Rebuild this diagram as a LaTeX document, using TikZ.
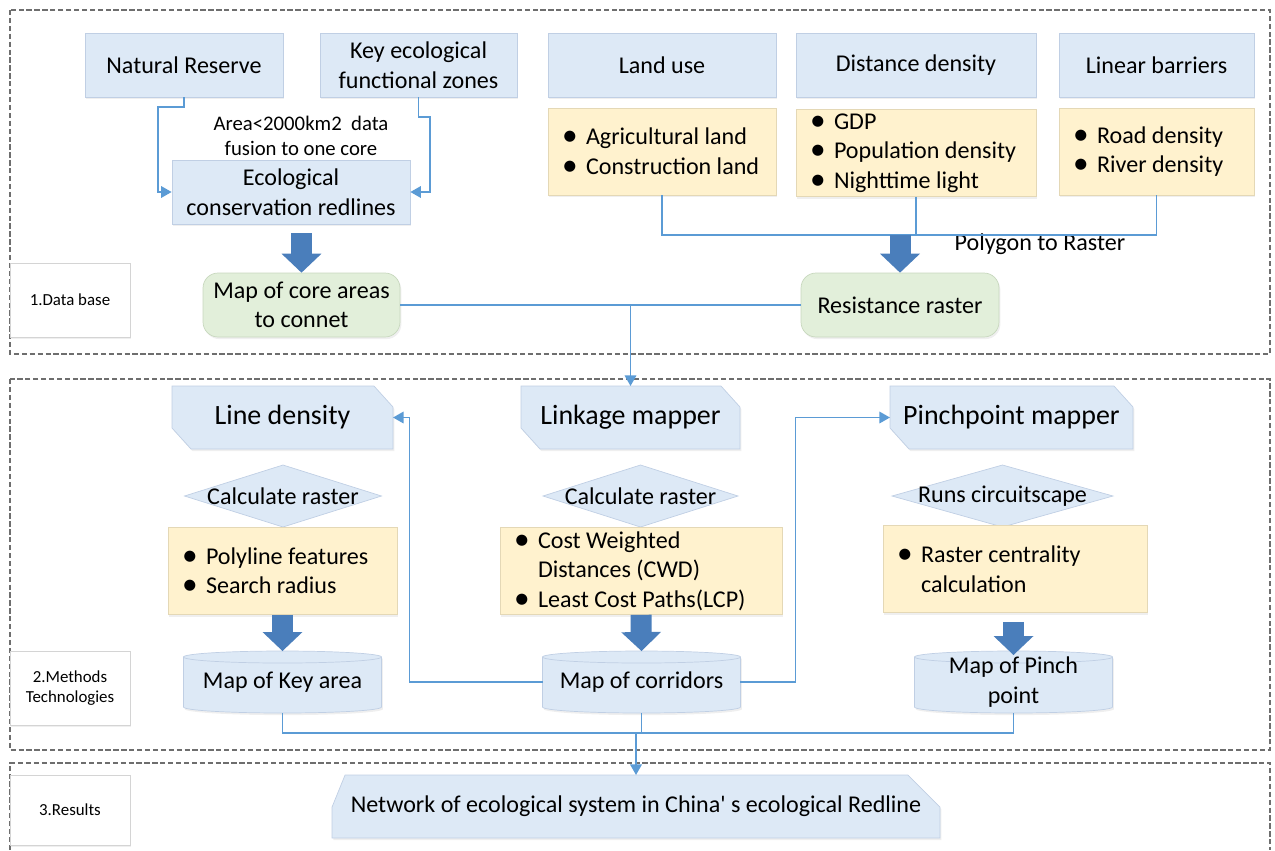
\documentclass[tikz,border=0pt]{standalone}
\usepackage{fontspec}
\setmainfont{Carlito}
\usepackage{tikz}
\usetikzlibrary{arrows.meta}
\usetikzlibrary{backgrounds}
\usetikzlibrary{shadows}

\definecolor{boxblue}{RGB}{221,233,246}
\definecolor{boxline}{RGB}{192,207,228}
\definecolor{boxyel}{RGB}{255,242,206}
\definecolor{yelline}{RGB}{228,216,182}
\definecolor{boxgreen}{RGB}{226,239,218}
\definecolor{greenline}{RGB}{200,216,190}
\definecolor{linkblue}{RGB}{91,155,213}
\definecolor{arrowblue}{RGB}{74,126,187}
\definecolor{framegray}{RGB}{110,110,110}
\definecolor{lblline}{RGB}{212,212,212}

\newcommand{\mainfs}{\fontsize{13.7}{16.8}\selectfont}
\newcommand{\cardfs}{\fontsize{15.9}{18}\selectfont}
\newcommand{\notefs}{\fontsize{11.8}{14.2}\selectfont}
\newcommand{\lblfs}{\fontsize{9.6}{11.5}\selectfont}
\newcommand{\bul}{\makebox[0.48cm][l]{\raisebox{-0.6pt}{\scalebox{1.3}{\textbullet}}}}

% shapes drawn behind named nodes
\newcommand{\cardbg}[1]{%
  \begin{pgfonlayer}{background}
    \path[shade, draw=boxline, fill=boxblue] (#1.north west) -- ([xshift=-0.38cm]#1.north east)
      -- ([yshift=-0.42cm]#1.north east) -- (#1.south east)
      -- ([xshift=0.38cm]#1.south west) -- ([yshift=0.42cm]#1.south west) -- cycle;
  \end{pgfonlayer}}
\newcommand{\netbg}[1]{%
  \begin{pgfonlayer}{background}
    \path[shade, draw=boxline, fill=boxblue] (#1.south west) -- ([yshift=-0.64cm]#1.north west)
      -- ([xshift=0.26cm]#1.north west) -- ([xshift=-0.64cm]#1.north east)
      -- ([yshift=-0.64cm]#1.north east) -- (#1.south east) -- cycle;
  \end{pgfonlayer}}
\newcommand{\diabg}[1]{%
  \begin{pgfonlayer}{background}
    \path[draw=boxline, fill=boxblue] (#1.west) -- (#1.north) -- (#1.east) -- (#1.south) -- cycle;
  \end{pgfonlayer}}
\newcommand{\cylbg}[1]{%
  \begin{pgfonlayer}{background}
    \path[shade, draw=boxline, fill=boxblue] ([yshift=-0.12cm]#1.north west) -- ([yshift=0.12cm]#1.south west)
      arc[start angle=180, end angle=360, x radius=1.98cm, y radius=0.12cm]
      -- ([yshift=-0.12cm]#1.north east)
      arc[start angle=0, end angle=180, x radius=1.98cm, y radius=0.12cm] -- cycle;
    \draw[boxline] ([yshift=-0.12cm]#1.north west)
      arc[start angle=180, end angle=360, x radius=1.98cm, y radius=0.12cm];
  \end{pgfonlayer}}

\begin{document}
\begin{tikzpicture}[x=0.02cm, y=-0.02cm,
    shade/.style={drop shadow={opacity=0.13, shadow xshift=0.8pt, shadow yshift=-1.2pt}},
    frame/.style={draw=framegray, dash pattern=on 3pt off 1.5pt, line width=0.7pt},
    bluebox/.style={rectangle, shade, draw=boxline, fill=boxblue, minimum height=1.28cm, align=center, font=\mainfs},
    yelbox/.style={rectangle, shade, draw=yelline, fill=boxyel, minimum height=1.74cm, align=flush left, inner xsep=0.28cm, inner ysep=2pt, font=\mainfs},
    greenbox/.style={rectangle, shade, rounded corners=0.3cm, draw=greenline, fill=boxgreen, minimum height=1.28cm, align=center, font=\mainfs},
    card/.style={rectangle, minimum height=1.26cm, outer sep=0pt, align=center, font=\cardfs},
    dia/.style={rectangle, minimum height=1.24cm, outer sep=0pt, inner sep=0pt, font=\mainfs},
    cyl/.style={rectangle, minimum width=3.96cm, minimum height=1.24cm, outer sep=0pt, align=center, font=\mainfs},
    note/.style={align=center, font=\notefs},
    lbl/.style={rectangle, shade, draw=lblline, fill=white, minimum width=2.4cm, align=center, font=\lblfs},
    conn/.style={draw=linkblue, line width=1.1pt, >={Triangle[length=6pt,width=6.5pt]}},
    bigarrow/.style={draw=arrowblue, line width=0.42cm, -{Triangle[width=0.8cm,length=0.38cm,line width=0pt]}},
]
    \useasboundingbox (0,0) rectangle (1275,850);

    % frames
    \draw[frame] (10,10) rectangle (1270,354);
    \draw[frame] (10,379) rectangle (1270,750);
    \draw[frame] (10,850) |- (1270,763) -- (1270,850);
    \node[lbl, minimum height=1.48cm] (l1) at (70,300) {1.Data base};
    \node[lbl, minimum height=1.48cm] (l2) at (70,688) {2.Methods\\Technologies};
    \node[lbl, minimum height=1.4cm] (l3) at (70,810) {3.Results};

    % 1. data base
    \node[bluebox, minimum width=3.96cm] (nr) at (184,65) {Natural Reserve};
    \node[bluebox, minimum width=3.94cm] (kez) at (418.5,65) {Key ecological\\functional zones};
    \node[bluebox, minimum width=4.76cm] (ecr) at (291,192) {Ecological\\conservation redlines};
    \node[note] (fuse) at (301,136) {Area<2000km2\ \ data\\fusion to one core};
    \node[bluebox, minimum width=4.56cm] (lu) at (662,65) {Land use};
    \node[bluebox, minimum width=4.8cm] (dd) at (916,65) {Distance density};
    \node[bluebox, minimum width=3.9cm] (lb) at (1156.5,65) {Linear barriers};
    \node[yelbox, text width=4.0cm] (luy) at (662,151.5) {\bul Agricultural land\\\bul Construction land};
    \node[yelbox, text width=4.24cm] (ddy) at (916,153) {\bul GDP\\\bul Population density\\\bul Nighttime light};
    \node[yelbox, text width=3.34cm] (lby) at (1156.5,151.5) {\bul Road density\\\bul River density};
    \node[greenbox, minimum width=3.94cm] (core) at (301.5,305) {Map of core areas\\to connet};
    \node[greenbox, minimum width=3.96cm] (res) at (900,305) {Resistance raster};
    \node[font=\mainfs] (ptr) at (1040,244) {Polygon to Raster};

    \draw[conn,->] (nr.south) -- ++(0,10) -| ([xshift=-0.28cm]ecr.west) -- (ecr.west);
    \draw[conn,->] (kez.south) -- ++(0,20) -| ([xshift=0.4cm]ecr.east) -- (ecr.east);
    \draw[conn] (luy.south) -- ++(0,40) coordinate (j1) -| (lby.south);
    \draw[conn] (ddy.south) -- (ddy.south |- j1);
    \path (ecr.south -| core.north) ++(0,9) coordinate (a1);
    \draw[bigarrow] (a1) -- (core.north);
    \draw[bigarrow] (j1 -| res.north) -- (res.north);

    % 2. methods
    \node[card, minimum width=4.42cm] (ldn) at (282.5,417.5) {Line density};
    \node[card, minimum width=4.38cm] (lkm) at (630.5,417.5) {Linkage mapper};
    \node[card, minimum width=4.86cm] (ppm) at (1011.5,417.5) {Pinchpoint mapper};
    \node[dia, minimum width=3.94cm] (cr1) at (283,496) {Calculate raster};
    \node[dia, minimum width=3.9cm] (cr2) at (640.5,496) {Calculate raster};
    \node[dia, minimum width=4.42cm] (rcs) at (1002.5,496) {Runs circuitscape};
    \node[yelbox, text width=4.02cm] (y1) at (282.5,571) {\bul Polyline features\\\bul Search radius};
    \node[yelbox, text width=5.08cm] (y2) at (641,571) {\bul Cost Weighted\\\hspace*{0.48cm}Distances (CWD)\\\bul Least Cost Paths(LCP)};
    \node[yelbox, text width=4.72cm] (y3) at (1015,569) {\bul Raster centrality\\\hspace*{0.48cm}calculation};
    \node[cyl] (k1) at (282.5,682) {Map of Key area};
    \node[cyl] (k2) at (641.5,682) {Map of corridors};
    \node[cyl] (k3) at (1013.5,682) {Map of Pinch\\point};
    \cardbg{ldn} \cardbg{lkm} \cardbg{ppm}
    \diabg{cr1} \diabg{cr2} \diabg{rcs}
    \cylbg{k1} \cylbg{k2} \cylbg{k3}

    \draw[conn] (core.east) -- (res.west);
    \draw[conn,->] (core.east -| lkm.north) -- (lkm.north);
    \draw[conn,->] (k2.west) -- ++(-133,0) |- (ldn.east);
    \draw[conn,->] (k2.east) -- ++(55,0) |- (ppm.west);
    \draw[bigarrow] (y1.south) -- (k1.north);
    \draw[bigarrow] (y2.south) -- (k2.north);
    \path (y3.south -| k3.north) ++(0,9) coordinate (a3);
    \draw[bigarrow] (a3) -- ([yshift=-0.08cm]k3.north);

    % 3. results
    \node[rectangle, minimum width=12.16cm, minimum height=1.26cm, outer sep=0pt, font=\mainfs] (net) at (636,806.5)
        {Network of ecological system in China\textquotesingle\ s ecological Redline};
    \netbg{net}
    \draw[conn] (k1.south) -- ++(0,20) coordinate (j2) -| (k3.south);
    \draw[conn] (k2.south) -- (k2.south |- j2);
    \draw[conn,->] (j2 -| net.north) -- (net.north);
\end{tikzpicture}
\end{document}
